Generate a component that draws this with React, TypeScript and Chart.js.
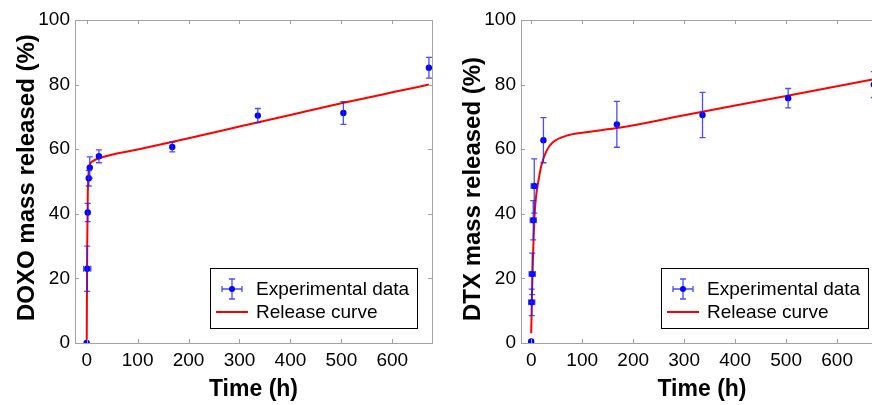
import React, { useEffect, useRef } from "react";
import { Chart, registerables } from "chart.js";

Chart.register(...registerables);

const FONT = "'Liberation Sans', Arial, Helvetica, sans-serif";

// ---- DOXO panel data ----
const doxoTime = [0, 1, 2, 4, 6, 24, 168, 336, 504, 672];
const doxoRelease = [0, 23, 40.4, 51, 54.3, 57.8, 60.7, 70.4, 71.2, 85.2];
const doxoErr = [0.3, 7, 2.8, 2.4, 3.3, 2, 1.5, 2.2, 3.5, 3.2];
const doxoTimeErr = [0, 7, 0, 0, 0, 0, 0, 0, 0, 0];
const doxoCurveTime = [0, 1, 2, 3, 5, 8, 12, 24, 100, 200, 300, 400, 500, 600, 672];
const doxoCurve = [0, 30, 45, 51, 54.5, 55.8, 56.3, 57.2, 59.9, 63.4, 67.0, 70.6, 74.2, 77.6, 80.0];

// ---- DTX panel data ----
const dtxTime = [0, 1, 2, 4, 6, 24, 168, 336, 504, 672];
const dtxRelease = [0.5, 12.6, 21.4, 38, 48.6, 62.8, 67.7, 70.6, 75.8, 80];
const dtxErr = [0.3, 4.1, 6.4, 6.1, 8.4, 7, 7.1, 7, 3, 4];
const dtxTimeErr = [0, 6, 6, 6, 6, 0, 0, 0, 0, 0];
const dtxCurveTime = [0, 2, 4, 7, 10, 14, 20, 30, 43, 70, 100, 175, 300, 400, 500, 600, 690];
const dtxCurve = [3, 18, 29, 40.5, 46, 50, 55, 59.5, 62.2, 64.2, 65.1, 66.7, 70.5, 73.5, 76.5, 79.5, 82.2];

// ---- axes / labels ----
const xTickValues = [0, 100, 200, 300, 400, 500, 600];
const yTickValues = [0, 20, 40, 60, 80, 100];
const xTitle = "Time (h)";
const legendLabels = ["Experimental data", "Release curve"];

type PanelProps = {
  left: number;
  width: number;
  yTitle: string;
  yTitleX: number;
  yTitleBottom: number;
  time: number[];
  release: number[];
  err: number[];
  timeErr: number[];
  curveTime: number[];
  curve: number[];
  xMin: number;
  xMax: number;
  yAxisWidth: number;
  padRight: number;
};

function Panel(p: PanelProps) {
  const ref = useRef<HTMLCanvasElement>(null);

  useEffect(() => {
    const canvas = ref.current!;
    const errColor = "rgba(30,30,255,0.8)";

    const decor = {
      id: "decor",
      afterDatasetsDraw(chart: any) {
        const ctx = chart.ctx;
        const xs = chart.scales.x;
        const ys = chart.scales.y;
        ctx.save();
        ctx.strokeStyle = errColor;
        ctx.lineWidth = 1.3;
        for (let i = 0; i < p.time.length; i++) {
          const px = xs.getPixelForValue(p.time[i]);
          const py = ys.getPixelForValue(p.release[i]);
          const e = p.err[i];
          if (e > 0.5) {
            const y1 = ys.getPixelForValue(p.release[i] + e);
            const y2 = ys.getPixelForValue(p.release[i] - e);
            ctx.beginPath();
            ctx.moveTo(px, y1);
            ctx.lineTo(px, y2);
            ctx.moveTo(px - 3, y1);
            ctx.lineTo(px + 3, y1);
            ctx.moveTo(px - 3, y2);
            ctx.lineTo(px + 3, y2);
            ctx.stroke();
          }
          const te = p.timeErr[i];
          if (te > 0) {
            const x1 = xs.getPixelForValue(p.time[i] - te);
            const x2 = xs.getPixelForValue(p.time[i] + te);
            ctx.beginPath();
            ctx.moveTo(x1, py);
            ctx.lineTo(x2, py);
            ctx.moveTo(x1, py - 3);
            ctx.lineTo(x1, py + 3);
            ctx.moveTo(x2, py - 3);
            ctx.lineTo(x2, py + 3);
            ctx.stroke();
          }
        }
        ctx.restore();
      },
      afterDraw(chart: any) {
        const ctx = chart.ctx;
        const ca = chart.chartArea;
        const xs = chart.scales.x;
        const ys = chart.scales.y;
        ctx.save();
        // frame
        ctx.strokeStyle = "#a3a3a3";
        ctx.lineWidth = 1;
        ctx.strokeRect(Math.round(ca.left) + 0.5, Math.round(ca.top) + 0.5,
          Math.round(ca.right - ca.left), Math.round(ca.bottom - ca.top));
        ctx.beginPath();
        for (const v of xTickValues) {
          const px = Math.round(xs.getPixelForValue(v)) + 0.5;
          ctx.moveTo(px, ca.bottom);
          ctx.lineTo(px, ca.bottom - 4);
          ctx.moveTo(px, ca.top);
          ctx.lineTo(px, ca.top + 4);
        }
        for (const v of yTickValues) {
          const py = Math.round(ys.getPixelForValue(v)) + 0.5;
          ctx.moveTo(ca.left, py);
          ctx.lineTo(ca.left + 4, py);
          ctx.moveTo(ca.right, py);
          ctx.lineTo(ca.right - 4, py);
        }
        ctx.stroke();

        // y-axis title
        ctx.save();
        ctx.translate(p.yTitleX, p.yTitleBottom);
        ctx.rotate(-Math.PI / 2);
        ctx.fillStyle = "#000";
        ctx.font = `bold 24px ${FONT}`;
        ctx.textAlign = "left";
        ctx.textBaseline = "alphabetic";
        ctx.fillText(p.yTitle, 0, 0);
        ctx.restore();

        // legend
        const bw = 207;
        const bh = 60;
        const bx = Math.round(ca.right - 15 - bw);
        const by = Math.round(ca.bottom - 15 - bh);
        ctx.fillStyle = "#ffffff";
        ctx.fillRect(bx, by, bw, bh);
        ctx.strokeStyle = "#000000";
        ctx.lineWidth = 1;
        ctx.strokeRect(bx + 0.5, by + 0.5, bw, bh);

        const cx = bx + 22;
        const cy = by + 21;
        ctx.strokeStyle = errColor;
        ctx.lineWidth = 1.3;
        ctx.beginPath();
        ctx.moveTo(cx - 10, cy);
        ctx.lineTo(cx + 10, cy);
        ctx.moveTo(cx - 10, cy - 3);
        ctx.lineTo(cx - 10, cy + 3);
        ctx.moveTo(cx + 10, cy - 3);
        ctx.lineTo(cx + 10, cy + 3);
        ctx.moveTo(cx, cy - 10);
        ctx.lineTo(cx, cy + 10);
        ctx.moveTo(cx - 3, cy - 10);
        ctx.lineTo(cx + 3, cy - 10);
        ctx.moveTo(cx - 3, cy + 10);
        ctx.lineTo(cx + 3, cy + 10);
        ctx.stroke();
        ctx.fillStyle = "#0000ff";
        ctx.beginPath();
        ctx.arc(cx, cy, 3, 0, Math.PI * 2);
        ctx.fill();

        ctx.strokeStyle = "#ff0000";
        ctx.lineWidth = 2;
        ctx.beginPath();
        ctx.moveTo(bx + 6, by + 44);
        ctx.lineTo(bx + 38, by + 44);
        ctx.stroke();

        ctx.fillStyle = "#000000";
        ctx.font = `19px ${FONT}`;
        ctx.textAlign = "left";
        ctx.textBaseline = "alphabetic";
        ctx.fillText(legendLabels[0], bx + 46, by + 27);
        ctx.fillText(legendLabels[1], bx + 46, by + 50);
        ctx.restore();
      },
    };

    const chart = new Chart(canvas, {
      type: "scatter",
      data: {
        datasets: [
          {
            label: legendLabels[0],
            data: p.time.map((t, i) => ({ x: t, y: p.release[i] })),
            pointRadius: 3.2,
            pointBackgroundColor: "#0000ff",
            pointBorderWidth: 0,
            showLine: false,
          } as any,
          {
            label: legendLabels[1],
            data: p.curveTime.map((t, i) => ({ x: t, y: p.curve[i] })),
            showLine: true,
            borderColor: "#ff0000",
            borderWidth: 2,
            pointRadius: 0,
            cubicInterpolationMode: "monotone",
            fill: false,
          } as any,
        ],
      },
      options: {
        animation: false,
        responsive: false,
        maintainAspectRatio: false,
        devicePixelRatio: 1,
        layout: { padding: { top: 20, right: p.padRight, left: 0, bottom: 0 } },
        plugins: { legend: { display: false }, tooltip: { enabled: false } },
        scales: {
          x: {
            type: "linear",
            min: p.xMin,
            max: p.xMax,
            afterFit: (s: any) => {
              s.height = 62;
            },
            grid: { display: false, drawTicks: false },
            border: { display: false },
            afterBuildTicks: (s: any) => {
              s.ticks = xTickValues.map((v) => ({ value: v }));
            },
            ticks: {
              padding: 6,
              color: "#000",
              maxRotation: 0,
              autoSkip: false,
              font: { family: FONT, size: 19 },
            },
            title: {
              display: true,
              text: xTitle,
              color: "#000",
              font: { family: FONT, size: 23, weight: "bold" },
              padding: { top: 0, bottom: 2 },
            },
          },
          y: {
            type: "linear",
            min: 0,
            max: 100,
            afterFit: (s: any) => {
              s.width = p.yAxisWidth;
            },
            grid: { display: false, drawTicks: false },
            border: { display: false },
            afterBuildTicks: (s: any) => {
              s.ticks = yTickValues.map((v) => ({ value: v }));
            },
            ticks: {
              padding: 5,
              color: "#000",
              font: { family: FONT, size: 19 },
            },
            title: { display: false },
          },
        },
      } as any,
      plugins: [decor],
    });
    return () => chart.destroy();
  }, []);

  return (
    <canvas
      ref={ref}
      width={p.width}
      height={405}
      style={{ position: "absolute", left: p.left, top: 0, width: p.width, height: 405 }}
    />
  );
}

export default function App() {
  return (
    <div
      style={{
        position: "absolute",
        left: 0,
        top: 0,
        width: 872,
        height: 405,
        overflow: "hidden",
        background: "#ffffff",
      }}
    >
      <Panel
        left={0}
        width={445}
        yTitle="DOXO mass released (%)"
        yTitleX={34}
        yTitleBottom={321}
        time={doxoTime}
        release={doxoRelease}
        err={doxoErr}
        timeErr={doxoTimeErr}
        curveTime={doxoCurveTime}
        curve={doxoCurve}
        xMin={-23}
        xMax={678}
        yAxisWidth={75}
        padRight={13}
      />
      <Panel
        left={445}
        width={450}
        yTitle="DTX mass released (%)"
        yTitleX={35}
        yTitleBottom={321}
        time={dtxTime}
        release={dtxRelease}
        err={dtxErr}
        timeErr={dtxTimeErr}
        curveTime={dtxCurveTime}
        curve={dtxCurve}
        xMin={-20}
        xMax={690}
        yAxisWidth={76}
        padRight={12}
      />
    </div>
  );
}
